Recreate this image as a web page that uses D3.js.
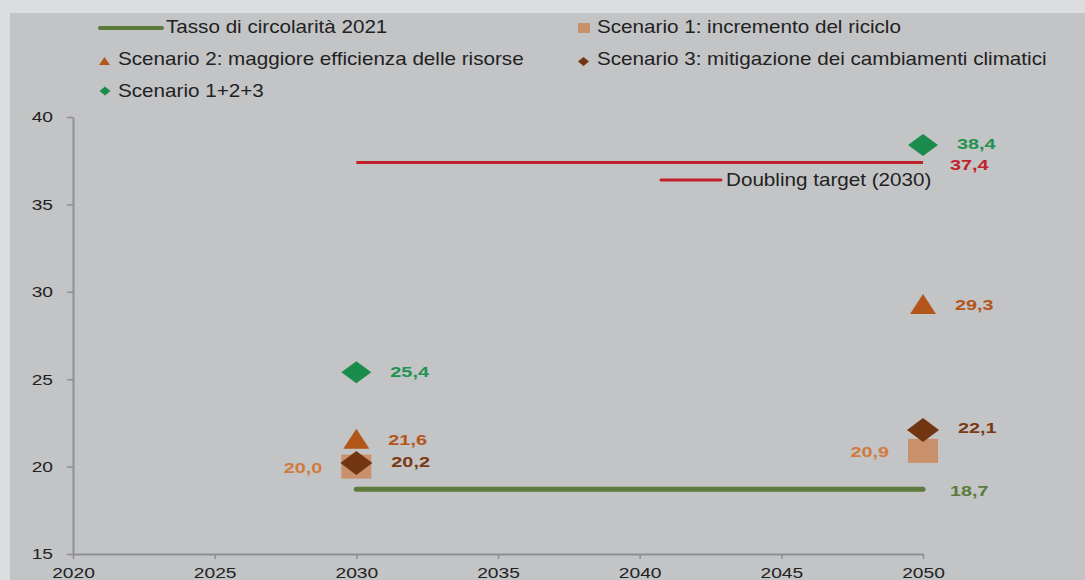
<!DOCTYPE html>
<html>
<head>
<meta charset="utf-8">
<script src="https://cdn.jsdelivr.net/npm/d3@7/dist/d3.min.js"></script>
<style>
  html, body { margin: 0; padding: 0; background: #dcdddf; }
  svg { display: block; font-family: "Liberation Sans", Arial, sans-serif; }
</style>
</head>
<body>
<svg id="chart" width="1085" height="580"></svg>
<script>
// Circularity rate scenarios (% of material use)
const years = [2030, 2050];
const scenario1 = [20.0, 20.9];   // increased recycling
const scenario2 = [21.6, 29.3];   // resource efficiency
const scenario3 = [20.2, 22.1];   // climate mitigation
const combined = [25.4, 38.4];    // scenario 1+2+3
const baseline2021 = 18.7;
const doublingTarget = 37.4;
const xTicks = [2020, 2025, 2030, 2035, 2040, 2045, 2050];
const yTicks = [15, 20, 25, 30, 35, 40];

const fmt = v => d3.format(".1f")(v).replace(".", ",");

// text in this chart is set in a wide face: stretch glyphs horizontally
const TICK_SX = 1.24, LABEL_SX = 1.28, LEGEND_SX = 1.18;

const svg = d3.select("#chart");

// background panel
svg.append("rect").attr("x", 10).attr("y", 13).attr("width", 1075).attr("height", 567).attr("fill", "#c3c4c6");

const x = d3.scaleLinear().domain([2020, 2050]).range([73, 923]);
const y = d3.scaleLinear().domain([15, 40]).range([554, 117]);

const axisColor = "#8e8f91";
const gy = svg.append("g").attr("transform", `translate(${x(2020)},0)`)
  .call(d3.axisLeft(y).tickValues(yTicks).tickSize(6).tickPadding(14).tickSizeOuter(0));
const gx = svg.append("g").attr("transform", `translate(0,${y(15)})`)
  .call(d3.axisBottom(x).tickValues(xTicks).tickFormat(d3.format("d")).tickSize(5).tickPadding(8).tickSizeOuter(0));
[gx, gy].forEach(g => {
  g.selectAll("path.domain").attr("stroke", axisColor).attr("stroke-width", 2);
  g.selectAll(".tick line").attr("stroke", axisColor).attr("stroke-width", 1.5);
  g.selectAll(".tick text")
    .attr("fill", "#222")
    .style("font-size", "15.5px")
    .style("font-family", "Liberation Sans, Arial, sans-serif")
    .each(function () {
      const t = d3.select(this);
      const x0 = +t.attr("x") || 0;
      t.attr("x", x0 / TICK_SX).attr("transform", `scale(${TICK_SX},1)`);
    });
});

const C = {
  base: "#5b7a3b", target: "#c1212b", comb: "#1a8c4c", s2: "#b3561a", s3: "#723511", s1: "#c8906b",
  s1lab: "#d27b40", s3lab: "#7a3912", comblab: "#1f9350"
};

// horizontal reference lines
svg.append("line").attr("x1", x(2030)).attr("x2", x(2050)).attr("y1", y(doublingTarget)).attr("y2", y(doublingTarget))
  .attr("stroke", C.target).attr("stroke-width", 3);
svg.append("line").attr("x1", x(2030)).attr("x2", x(2050)).attr("y1", y(baseline2021)).attr("y2", y(baseline2021))
  .attr("stroke", C.base).attr("stroke-width", 5).attr("stroke-linecap", "round");

// marker shapes
const diamond = (w, h) => `M0,${-h/2}L${w/2},0L0,${h/2}L${-w/2},0Z`;
const triangle = (w, h) => `M0,${-h/2}L${w/2},${h/2}L${-w/2},${h/2}Z`;

const g = svg.append("g");
years.forEach((yr, i) => {
  g.append("rect").attr("x", x(yr) - 15).attr("y", y(scenario1[i]) - 12).attr("width", 30).attr("height", 24).attr("fill", C.s1);
  g.append("path").attr("d", triangle(26, 20)).attr("transform", `translate(${x(yr)},${y(scenario2[i])})`).attr("fill", C.s2);
  g.append("path").attr("d", diamond(32, 24)).attr("transform", `translate(${x(yr)},${y(scenario3[i])})`).attr("fill", C.s3);
  g.append("path").attr("d", diamond(30, 22)).attr("transform", `translate(${x(yr)},${y(combined[i])})`).attr("fill", C.comb);
});

// stretched text helper
const stext = (parent, px, py, txt, sx, size, opts = {}) => parent.append("text")
  .attr("transform", `translate(${px},${py}) scale(${sx},1)`)
  .attr("dy", "0.35em")
  .attr("text-anchor", opts.anchor || "start")
  .attr("fill", opts.color || "#222")
  .style("font-size", size + "px")
  .style("font-weight", opts.bold ? "bold" : "normal")
  .text(txt);

// value labels
const lab = (px, py, txt, color, anchor) => stext(svg, px, py, txt, LABEL_SX, 15.5, { color, anchor, bold: true });

years.forEach((yr, i) => {
  lab(x(yr) - 34, y(scenario1[i]) + 1, fmt(scenario1[i]), C.s1lab, "end");
  lab(x(yr) + 32, y(scenario2[i]) + 1, fmt(scenario2[i]), C.s2);
  lab(x(yr) + 35, y(scenario3[i]) - 2, fmt(scenario3[i]), C.s3lab);
  lab(x(yr) + 34, y(combined[i]) - 1, fmt(combined[i]), C.comblab);
});
lab(x(2050) + 27, y(doublingTarget) + 2, fmt(doublingTarget), C.target);
lab(x(2050) + 27, y(baseline2021) + 1, fmt(baseline2021), C.base);

// legend
const leg = svg.append("g");
const legText = (px, py, t) => stext(leg, px, py, t, LEGEND_SX, 17.5);
leg.append("line").attr("x1", 100).attr("x2", 162).attr("y1", 28).attr("y2", 28).attr("stroke", C.base).attr("stroke-width", 4).attr("stroke-linecap", "round");
legText(166, 27, "Tasso di circolarità 2021");
leg.append("rect").attr("x", 578).attr("y", 23).attr("width", 12).attr("height", 10).attr("fill", C.s1);
legText(597, 27, "Scenario 1: incremento del riciclo");
leg.append("path").attr("d", triangle(11, 8)).attr("transform", "translate(104.5,61)").attr("fill", C.s2);
legText(118, 59, "Scenario 2: maggiore efficienza delle risorse");
leg.append("path").attr("d", diamond(11, 9)).attr("transform", "translate(583.5,61.5)").attr("fill", C.s3);
legText(597, 59, "Scenario 3: mitigazione dei cambiamenti climatici");
leg.append("path").attr("d", diamond(11, 9)).attr("transform", "translate(105,91)").attr("fill", C.comb);
legText(118, 91, "Scenario 1+2+3");
leg.append("line").attr("x1", 661).attr("x2", 721).attr("y1", 180).attr("y2", 180).attr("stroke", C.target).attr("stroke-width", 3).attr("stroke-linecap", "round");
legText(726, 180, "Doubling target (2030)");
</script>
</body>
</html>
